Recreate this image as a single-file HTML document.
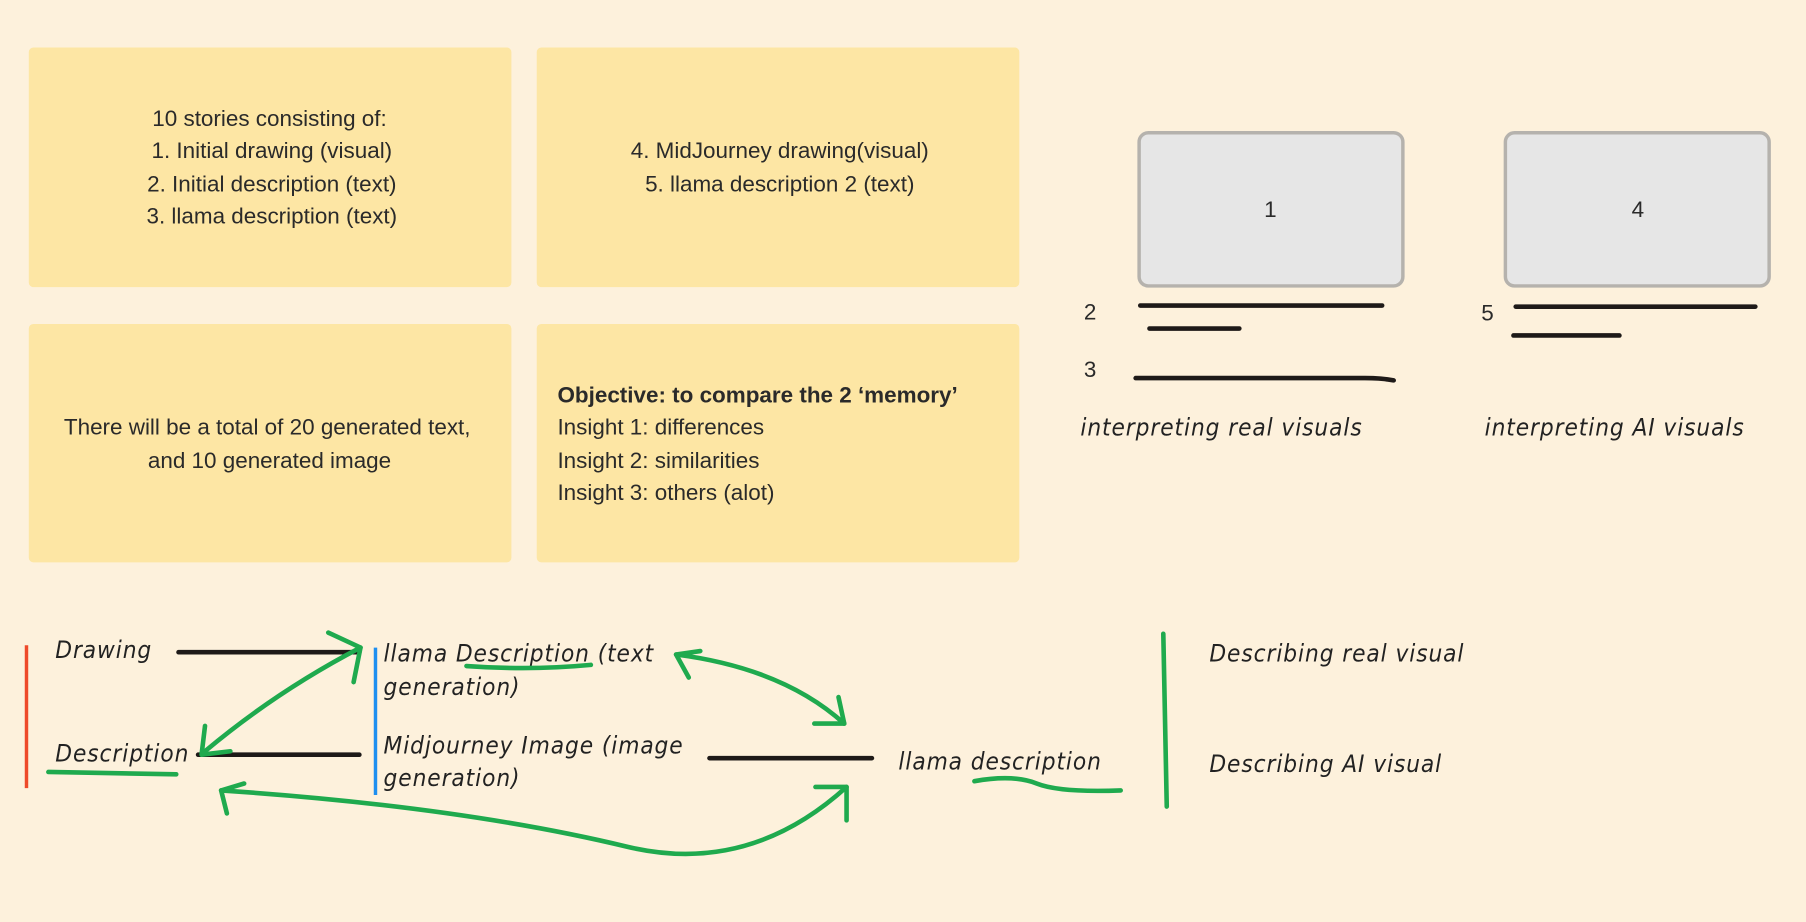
<!DOCTYPE html>
<html><head><meta charset="utf-8"><style>
html,body{margin:0;padding:0;background:#fdf1dc;}
svg{display:block}
.t{font-family:"Liberation Sans",sans-serif;font-size:19.5px;fill:#2a2a2a}
.h{font-family:"DejaVu Sans Condensed","Liberation Serif",serif;font-style:italic;font-size:21px;letter-spacing:0.8px;fill:#222}
</style></head><body>
<svg width="1806" height="922" viewBox="0 0 1568 800" xmlns="http://www.w3.org/2000/svg">
<rect width="1568" height="800" fill="#fdf1dc"/>
<g fill="#fde6a4">
<rect x="25" y="41" width="419" height="208" rx="4"/>
<rect x="466" y="41" width="419" height="208" rx="4"/>
<rect x="25" y="281" width="419" height="207" rx="4"/>
<rect x="466" y="281" width="419" height="207" rx="4"/>
</g>
<g class="t" text-anchor="middle">
<text x="234" y="109">10 stories consisting of:</text>
<text x="236" y="137">1. Initial drawing (visual)</text>
<text x="236" y="166">2. Initial description (text)</text>
<text x="236" y="194">3. llama description (text)</text>
<text x="677" y="137">4. MidJourney drawing(visual)</text>
<text x="677" y="166">5. llama description 2 (text)</text>
<text x="232" y="377">There will be a total of 20 generated text,</text>
<text x="234" y="406">and 10 generated image</text>
</g>
<g class="t">
<text x="484" y="349" font-weight="bold">Objective: to compare the 2 ‘memory’</text>
<text x="484" y="377">Insight 1: differences</text>
<text x="484" y="406">Insight 2: similarities</text>
<text x="484" y="434">Insight 3: others (alot)</text>
</g>
<rect x="989" y="115" width="229" height="133" rx="8" fill="#e6e6e6" stroke="#b5b2ad" stroke-width="3"/>
<rect x="1307" y="115" width="229" height="133" rx="8" fill="#e6e6e6" stroke="#b5b2ad" stroke-width="3"/>
<g class="t">
<text x="1103" y="188" text-anchor="middle">1</text>
<text x="1422" y="188" text-anchor="middle">4</text>
<text x="941" y="277">2</text>
<text x="941" y="327">3</text>
<text x="1286" y="278">5</text>
</g>
<g stroke="#1e1a18" stroke-width="4" stroke-linecap="round" fill="none">
<line x1="990" y1="265" x2="1200" y2="265"/>
<line x1="998" y1="285" x2="1076" y2="285"/>
<path d="M986 328 L1185 328 Q1200 328 1210 330"/>
<line x1="1316" y1="266" x2="1524" y2="266"/>
<line x1="1314" y1="291" x2="1406" y2="291"/>
<line x1="155" y1="566" x2="312" y2="566"/>
<line x1="172" y1="655" x2="312" y2="655"/>
<line x1="616" y1="658" x2="757" y2="658"/>
</g>
<g class="h">
<text x="938" y="378">interpreting real visuals</text>
<text x="1289" y="378">interpreting AI visuals</text>
<text x="48" y="571">Drawing</text>
<text x="48" y="661">Description</text>
<text x="333" y="574">llama Description (text</text>
<text x="333" y="603">generation)</text>
<text x="333" y="654">Midjourney Image (image</text>
<text x="333" y="682">generation)</text>
<text x="780" y="668">llama description</text>
<text x="1050" y="574">Describing real visual</text>
<text x="1050" y="670">Describing AI visual</text>
</g>
<line x1="23" y1="560" x2="23" y2="684" stroke="#ee4a2a" stroke-width="3"/>
<line x1="326" y1="562" x2="326" y2="690" stroke="#1e8ff0" stroke-width="3"/>
<g stroke="#1faa4e" stroke-width="4" fill="none" stroke-linecap="round" stroke-linejoin="round">
<line x1="1010" y1="550" x2="1013" y2="700"/>
<path d="M42 670 L153 672"/>
<path d="M405 578 Q460 582 513 577"/>
<path d="M846 678 Q880 672 900 680 Q920 688 973 686"/>
<path d="M313 562 Q240 600 178 652"/>
<path d="M285 549 L313 562 L307 592"/>
<path d="M178 630 L175 655 L200 652"/>
<path d="M587 568 Q680 580 733 628"/>
<path d="M598 588 L587 568 L608 565"/>
<path d="M707 628 L733 628 L728 605"/>
<path d="M735 683 Q650 760 545 735 Q400 700 192 686"/>
<path d="M708 683 L735 683 L735 712"/>
<path d="M197 706 L192 686 L212 680"/>
</g>
</svg>
</body></html>
